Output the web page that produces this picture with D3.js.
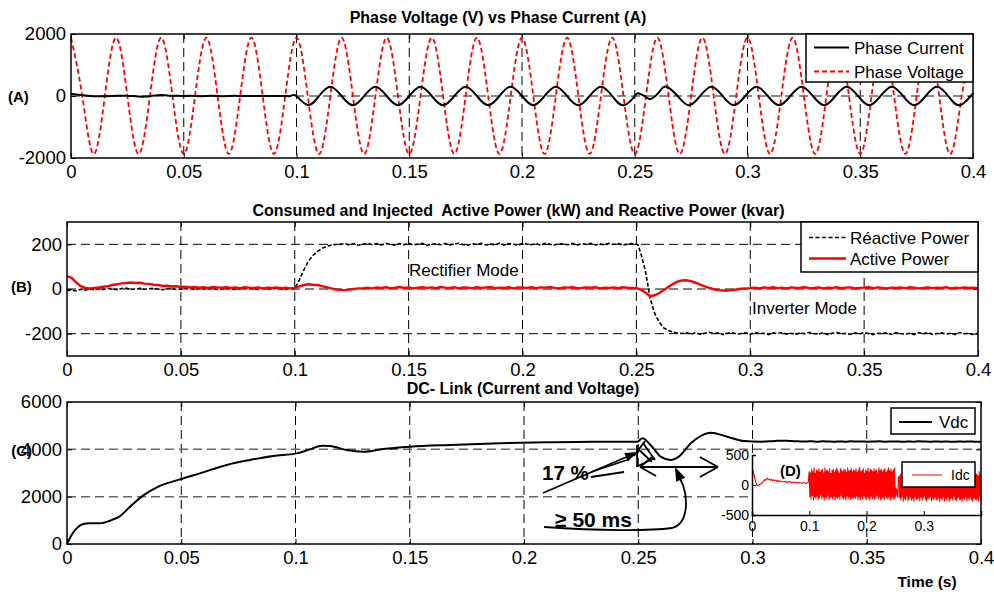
<!DOCTYPE html>
<html><head><meta charset="utf-8">
<script src="https://cdn.jsdelivr.net/npm/d3@7"></script>
<style>body{margin:0;background:#fff} svg{display:block}</style>
</head><body><svg id="c" width="994" height="592"></svg>
<script>
// ---------------- DATA ----------------
const xTicks = [0,0.05,0.1,0.15,0.2,0.25,0.3,0.35,0.4];
const xTickLabels = ["0","0.05","0.1","0.15","0.2","0.25","0.3","0.35","0.4"];
const yTicksA = [-2000,0,2000];
const yTicksB = [-200,0,200];
const yTicksC = [0,2000,4000,6000];
const yTicksD = [-500,0,500];
const xTicksD = [0,0.1,0.2,0.3];
const xTickLabelsD = ["0","0.1","0.2","0.3"];

// Panel A : phase voltage, values every 5 ms from 0 to 0.4 s
const phaseVoltage = [
 1880,0,-1870,0, 1880,0,-1870,0, 1880,0,-1870,0, 1880,0,-1870,0, 1880,0,-1870,0,
 1880,0,-1870,0, 1880,0,-1870,0, 1880,0,-1870,0, 1880,0,-1870,0, 1880,0,-1870,0,
 1880,0,-1870,0, 1880,0,-1870,0, 1880,0,-1870,0, 1880,0,-1870,0, 1880,0,-1870,0,
 1880,0,-1870,0, 1880,0,-1870,0, 1880,0,-1870,0, 1880,0,-1870,0, 1880,0,-1870,0,
 1880];
// Panel A : phase current
const currentStart = [65,50,25,5,-5,-10,-5,0,5,10,5,0,-15,-20,-5,20,30,20,10,5,0,5,0,-5,0,5,0,-5,0,5,0,3,0,-3,0,2,0,-2,0,2]; // 0 -> 0.0975
const currentRect = [0,-290,0,300,0,-300,0,300,0,-300,0,300,0,-300,0,300,0,-300,0,300,0,-300,0,300,0,-300,0,300,0,-300,0]; // 0.1 -> 0.25
const currentTrans = [[0.2515,90],[0.254,10],[0.2565,-100],[0.259,-10],[0.2615,190]];
const currentInv = [300,0,-300,0,300,0,-300,0,300,0,-300,0,300,0,-300,0,300,0,-300,0,300,0,-300,0,300,0,-300,0]; // 0.264 -> 0.399
const currentEnd = [[0.4,60]];

// Panel B : reactive power (kvar)
const qPre = [-8,-4,-9,-1,-5,1,-4,2,-2,3,-1,-3,2,4,-2,0,3,-2,1,4,-1,-3,2,3,-2,0,4,1,-2,3,0,1,4,-2,0,3,1,-2,3,0,4,1,-2,3,0,1,4,0,-2,3,0]; // 0 -> 0.1
const qRise = [[0.102,40],[0.104,85],[0.106,125],[0.108,150],[0.11,168],[0.112,182],[0.114,191],[0.116,196],[0.118,199]];
const qHigh = [200,204,197,203,196,201,205,198,203,197,204,200,196,203,198,205,197,201,204,196,200,203,198,204,197,201,205,198,196,203,200,204,197,201,198,205,196,203,200,197,204,201,198,203,196,205,200,197,203,201,198,204,196,203,200,205,197,201,198,204,200,203,197,201,204,200]; // 0.12 -> 0.25
const qFall = [[0.2507,198],[0.252,158],[0.254,80],[0.256,-40],[0.258,-108],[0.26,-148],[0.262,-174],[0.264,-186],[0.266,-193],[0.268,-197]];
const qLow = [-199,-195,-202,-196,-203,-198,-194,-200,-196,-204,-198,-195,-202,-199,-196,-203,-195,-200,-198,-204,-196,-199,-195,-202,-198,-203,-196,-200,-194,-199,-202,-196,-204,-198,-195,-200,-199,-203,-196,-202,-195,-199,-204,-198,-200,-196,-203,-195,-199,-202,-198,-204,-196,-200,-195,-203,-199,-196,-202,-198,-204,-195,-200,-199,-203,-198]; // 0.27 -> 0.4

// Panel B : active power (kW)
const pStart = [[0,58],[0.002,50],[0.004,30],[0.006,13],[0.008,5],[0.01,3],[0.012,5],[0.014,7],[0.016,10],[0.018,13],[0.02,18],[0.022,21],[0.024,25],[0.026,27],[0.028,29],[0.03,27],[0.032,28],[0.034,24],[0.036,23],[0.038,19],[0.04,18],[0.042,14],[0.044,15],[0.046,11],[0.048,12]];
const pMid = [9,10,7,9,6,8,5,9,7,6,8,5,7,4,8,6,5,7,3,6,5,7,4,6,3,5]; // 0.05 -> 0.1
const pBump = [[0.102,12],[0.104,18],[0.106,21],[0.108,19],[0.11,18],[0.112,13],[0.114,8],[0.116,3],[0.118,-2],[0.12,-4],[0.122,-5],[0.124,-3],[0.126,0],[0.128,3],[0.13,4]];
const pFlat1 = [6,3,7,5,8,4,6,9,5,7,3,6,8,5,7,4,9,6,5,8,3,7,6,4,8,5,7,9,4,6,5,8,3,7,6,5,8,4,7,6,9,5,3,7,6,8,4,5,7,6,8,3,6,5,7,4,8,6,5,4]; // 0.132 -> 0.25
const pDip = [[0.252,-3],[0.254,-16],[0.256,-32],[0.258,-28],[0.26,-18],[0.262,-5],[0.264,9],[0.266,22],[0.268,33],[0.27,38],[0.272,39],[0.274,35],[0.276,28],[0.278,20],[0.28,12],[0.282,5],[0.284,-1],[0.286,-5],[0.288,-7],[0.29,-7],[0.292,-5],[0.294,-2],[0.296,1],[0.298,3]];
const pFlat2 = [4,6,3,7,5,8,4,6,3,7,5,6,8,4,5,7,3,6,5,8,4,6,7,3,5,6,8,4,7,5,3,6,5,7,4,8,6,3,5,7,4,6,5,8,3,6,4,7,5,6,4]; // 0.3 -> 0.4

// Panel C : DC link voltage
const vdcPoints = [[0,0],[0.002,380],[0.0042,660],[0.0071,845],[0.01,875],[0.0144,875],[0.0188,985],[0.0232,1180],[0.0276,1575],[0.0334,2055],[0.0393,2395],[0.0495,2730],[0.0582,2985],[0.0699,3340],[0.0801,3550],[0.0903,3720],[0.1005,3830],[0.1063,4000],[0.1115,4155],[0.1151,4140],[0.1224,3970],[0.1297,3900],[0.1384,4015],[0.1501,4110],[0.1676,4185],[0.1895,4255],[0.21,4300],[0.2306,4325],[0.2496,4325],[0.2518,4465],[0.2554,4185],[0.2598,3690],[0.2642,3550],[0.2678,3690],[0.273,4255],[0.2817,4705],[0.289,4535],[0.2963,4350]];
const vdcPlateau = [4320,4335,4345,4360,4365,4355,4340,4335,4330,4345,4325,4340,4330,4320,4335,4325,4340,4330,4335,4320,4330,4340,4325,4330,4335,4320,4330,4325,4340,4330,4320,4335,4325,4330,4320,4330,4325,4335,4320,4325]; // 0.3036 -> 0.4

// Panel D : DC link current
const idcStart = [[0,200],[0.002,230],[0.004,150],[0.006,70],[0.008,10],[0.01,-15],[0.012,-5],[0.014,20],[0.016,15],[0.018,45],[0.02,60],[0.022,90],[0.024,80],[0.026,110],[0.028,95],[0.03,100],[0.032,80],[0.034,95],[0.036,70],[0.038,85],[0.04,75],[0.042,80],[0.044,60],[0.046,75],[0.048,55],[0.05,65],[0.054,50],[0.058,60],[0.062,45],[0.066,55],[0.07,40],[0.074,50],[0.078,35],[0.082,45],[0.086,30],[0.09,40],[0.094,25],[0.098,35]];
const idcHi1 = [230,210,270,230,290,200,260,240,280,220,250,270,210,290,240,260,230,280,200,250,270,220,260,290,240,210,280,250,230,270,260,220,290,240,250,280,230,260,
  240,270,220,260,300,230,250,280,210,260,240,290,220,270,250,230,280,240,260,210,290,250,270,230,260,280,220,250,290,240,270,230,260,290];
const idcLo1 = [-200,-240,-180,-260,-210,-230,-190,-250,-220,-170,-240,-200,-260,-210,-230,-180,-250,-220,-200,-240,-190,-260,-210,-230,-200,-250,-180,-220,-240,-210,-260,-190,-230,-200,-250,-220,-240,-210,
  -230,-190,-250,-210,-260,-200,-240,-180,-220,-250,-200,-230,-260,-190,-240,-210,-250,-220,-180,-240,-200,-260,-230,-210,-250,-190,-220,-240,-200,-260,-230,-210,-250,-220];
const idcTrans = [[0.2505,-130],[0.2512,-40],[0.2519,-160],[0.2526,-60],[0.2533,-190],[0.254,-80],[0.2548,-210],[0.2556,120]];
const idcHi2 = [150,190,130,210,170,230,140,200,180,220,160,130,210,190,150,230,170,200,140,220,180,160,210,130,190,230,150,200,170,220,140,190,210,160,230,180,
  200,150,220,170,190,230,140,210,180,160,220,190,150,230,170,200,130,210,180,220,160,190,230,150,200,170,210,140,220,180,190,160,230,170];
const idcLo2 = [-220,-260,-200,-280,-230,-250,-190,-270,-240,-210,-260,-230,-280,-200,-250,-240,-220,-270,-210,-260,-230,-190,-250,-280,-220,-240,-200,-270,-230,-250,-210,-260,-240,-220,-280,-230,
  -250,-210,-270,-230,-260,-200,-280,-240,-220,-260,-190,-250,-270,-230,-210,-260,-240,-280,-220,-250,-200,-270,-230,-260,-210,-250,-280,-220,-240,-260,-230,-270,-210,-250];

// ---------------- HELPERS ----------------
const FONT = '"Liberation Sans", Arial, Helvetica, sans-serif';
const spread = (vals, t0, t1) => vals.map((v, i) => [t0 + (t1 - t0) * i / (vals.length - 1), v]);
const interleave = (hi, lo) => hi.flatMap((h, i) => i < lo.length ? [h, lo[i]] : [h]);

const currentSeries = [].concat(spread(currentStart, 0, 0.0975), spread(currentRect, 0.1, 0.25), currentTrans, spread(currentInv, 0.264, 0.399), currentEnd);
const voltageSeries = spread(phaseVoltage, 0, 0.4);
const reactiveSeries = [].concat(spread(qPre, 0, 0.1), qRise, spread(qHigh, 0.12, 0.25), qFall, spread(qLow, 0.27, 0.4));
const activeSeries = [].concat(pStart, spread(pMid, 0.05, 0.1), pBump, spread(pFlat1, 0.132, 0.25), pDip, spread(pFlat2, 0.3, 0.4));
const vdcSeries = [].concat(vdcPoints, spread(vdcPlateau, 0.3036, 0.4));
const idcSeries = [].concat(idcStart, spread(interleave(idcHi1, idcLo1), 0.1, 0.25), idcTrans, spread(interleave(idcHi2, idcLo2), 0.257, 0.4));

// ---------------- DRAWING ----------------
const svg = d3.select("#c");
svg.append("rect").attr("width", 994).attr("height", 592).attr("fill", "#fff");

const boxA = {l:71, r:973, t:34, b:158};
const boxB = {l:67, r:978, t:222, b:356};
const boxC = {l:67, r:981, t:402, b:544};
const boxD = {l:752, r:981, t:455, b:515};
const TICK_FS = 18.5;

function panel(box, yDom, hGrid, hColor, hWidth) {
  const x = d3.scaleLinear().domain([0, 0.4]).range([box.l, box.r]);
  const y = d3.scaleLinear().domain(yDom).range([box.b, box.t]);
  const g = svg.append("g");
  g.selectAll(null).data(xTicks.filter(t => t > 0 && t < 0.4)).join("line")
    .attr("x1", d => x(d)).attr("x2", d => x(d)).attr("y1", box.t).attr("y2", box.b)
    .attr("stroke", "#000").attr("stroke-width", 1).attr("stroke-dasharray", "9,5");
  g.selectAll(null).data(hGrid).join("line")
    .attr("x1", box.l).attr("x2", box.r).attr("y1", d => y(d)).attr("y2", d => y(d))
    .attr("stroke", hColor).attr("stroke-width", hWidth).attr("stroke-dasharray", "9,5");
  return {x, y, g};
}

function axes(P, box, yTicks) {
  const ax = P.g.append("g").attr("transform", `translate(0,${box.b})`)
    .call(d3.axisBottom(P.x).tickValues(xTicks).tickFormat((d, i) => xTickLabels[i]).tickSize(-5).tickPadding(7));
  const ay = P.g.append("g").attr("transform", `translate(${box.l},0)`)
    .call(d3.axisLeft(P.y).tickValues(yTicks).tickFormat(d => String(d)).tickSize(-5).tickPadding(5));
  const at = P.g.append("g").attr("transform", `translate(0,${box.t})`)
    .call(d3.axisTop(P.x).tickValues(xTicks).tickFormat("").tickSize(-5));
  const ar = P.g.append("g").attr("transform", `translate(${box.r},0)`)
    .call(d3.axisRight(P.y).tickValues(yTicks).tickFormat("").tickSize(-5));
  [ax, ay, at, ar].forEach(a => {
    a.select(".domain").remove();
    a.selectAll("line").attr("stroke", "#000");
    a.selectAll("text").attr("font-size", TICK_FS).attr("font-family", FONT).attr("fill", "#000");
  });
}

function frame(box) {
  svg.append("rect").attr("x", box.l).attr("y", box.t).attr("width", box.r - box.l).attr("height", box.b - box.t)
    .attr("fill", "none").attr("stroke", "#000").attr("stroke-width", 1.5);
}

function text(x, y, str, opts = {}) {
  return svg.append("text").attr("x", x).attr("y", y).text(str)
    .attr("font-family", FONT).attr("font-size", opts.size || 17)
    .attr("font-weight", opts.bold ? "bold" : "normal")
    .attr("text-anchor", opts.anchor || "start").attr("fill", "#000");
}

function legend(b, items, fs) {
  svg.append("rect").attr("x", b.x).attr("y", b.y).attr("width", b.w).attr("height", b.h)
    .attr("fill", "#fff").attr("stroke", "#000").attr("stroke-width", 1.5);
  items.forEach(it => {
    svg.append("line").attr("x1", it.x1).attr("x2", it.x2).attr("y1", it.ly).attr("y2", it.ly)
      .attr("stroke", it.color).attr("stroke-width", it.w).attr("stroke-dasharray", it.dash || null);
    text(it.tx, it.ty, it.label, {size: fs});
  });
}

function arrowHead(p0, p1, len, half) {
  const dx = p1[0] - p0[0], dy = p1[1] - p0[1], L = Math.hypot(dx, dy);
  const ux = dx / L, uy = dy / L;
  const bx = p1[0] - ux * len, by = p1[1] - uy * len;
  svg.append("path").attr("d", `M${p1[0]},${p1[1]}L${bx - uy * half},${by + ux * half}L${bx + uy * half},${by - ux * half}Z`)
    .attr("fill", "#000");
}

// ---- Panel A ----
const PA = panel(boxA, [-2000, 2000], [0], "#666", 1.5);
axes(PA, boxA, yTicksA);
const lineA = d3.line().x(d => PA.x(d[0])).y(d => PA.y(d[1])).curve(d3.curveNatural);
svg.append("path").attr("d", lineA(voltageSeries)).attr("fill", "none").attr("stroke", "#f00")
  .attr("stroke-width", 1.8).attr("stroke-dasharray", "5,3");
svg.append("path").attr("d", lineA(currentSeries)).attr("fill", "none").attr("stroke", "#000").attr("stroke-width", 2);
frame(boxA);
text(498, 23, "Phase Voltage (V) vs Phase Current (A)", {size: 16, bold: true, anchor: "middle"});
text(8, 102, "(A)", {size: 15, bold: true});
legend({x: 806, y: 34, w: 167, h: 48}, [
  {label: "Phase Current", color: "#000", w: 2, x1: 814, x2: 849, ly: 47.5, tx: 854, ty: 53.5},
  {label: "Phase Voltage", color: "#f00", w: 2, dash: "5,3", x1: 814, x2: 849, ly: 71.5, tx: 854, ty: 77.5}
], 17);

// ---- Panel B ----
const PB = panel(boxB, [-300, 300], yTicksB, "#000", 1);
axes(PB, boxB, yTicksB);
const lineB = d3.line().x(d => PB.x(d[0])).y(d => PB.y(d[1]));
svg.append("path").attr("d", lineB(reactiveSeries)).attr("fill", "none").attr("stroke", "#000")
  .attr("stroke-width", 1.6).attr("stroke-dasharray", "4,2");
svg.append("path").attr("d", lineB(activeSeries)).attr("fill", "none").attr("stroke", "#f00").attr("stroke-width", 2.4);
frame(boxB);
text(518.5, 216, "Consumed and Injected  Active Power (kW) and Reactive Power (kvar)", {size: 16, bold: true, anchor: "middle"}).style("white-space", "pre");
text(11, 292, "(B)", {size: 15, bold: true});
text(PB.x(0.1502), PB.y(58), "Rectifier Mode", {size: 17});
text(PB.x(0.3008), PB.y(-112), "Inverter Mode", {size: 17});
legend({x: 801, y: 222, w: 177, h: 50}, [
  {label: "Réactive Power", color: "#000", w: 1.5, dash: "4,2.5", x1: 809, x2: 846, ly: 237.5, tx: 850, ty: 243.5},
  {label: "Active Power", color: "#f00", w: 2.4, x1: 809, x2: 846, ly: 258.5, tx: 850, ty: 264.5}
], 17);

// ---- Panel C ----
const PC = panel(boxC, [0, 6000], [2000, 4000], "#666", 1.5);
axes(PC, boxC, yTicksC);
const lineC = d3.line().x(d => PC.x(d[0])).y(d => PC.y(d[1])).curve(d3.curveMonotoneX);
svg.append("path").attr("d", lineC(vdcSeries)).attr("fill", "none").attr("stroke", "#000").attr("stroke-width", 2);

// annotations (data units of panel C)
const C = (t, v) => [PC.x(t), PC.y(v)];
const annLines = [
  [[0.2083, 2155], [0.2499, 3887]],
  [[0.2293, 3042], [0.2464, 3592]],
  [[0.2293, 2831], [0.2438, 3042]],
  [[0.2495, 4183], [0.2495, 3254]],
  [[0.2481, 3718], [0.2530, 4352]],
  [[0.2521, 4268], [0.2573, 3549]],
  [[0.2495, 4056], [0.2560, 3465]],
  [[0.2499, 3296], [0.2573, 3634]],
  [[0.2508, 3254], [0.2849, 3254]],
  [[0.2508, 3254], [0.2578, 2873]],
  [[0.2508, 3254], [0.2560, 3676]],
  [[0.2849, 3254], [0.2770, 3676]],
  [[0.2849, 3254], [0.2770, 2831]]
];
annLines.forEach(([a, b]) => {
  const p = C(...a), q = C(...b);
  svg.append("line").attr("x1", p[0]).attr("y1", p[1]).attr("x2", q[0]).attr("y2", q[1])
    .attr("stroke", "#000").attr("stroke-width", 1.8);
});
arrowHead(C(0.2083, 2155), C(0.2499, 3887), 13, 4.5);
const cp = [[0.2088, 718], [0.2333, 549], [0.2551, 549], [0.2648, 676], [0.2718, 845], [0.2718, 1859], [0.2696, 2493], [0.2665, 3127]].map(d => C(...d));
svg.append("path").attr("d", `M${cp[0]}C${cp[1]} ${cp[2]} ${cp[3]}C${cp[4]} ${cp[5]} ${cp[6]}L${cp[7]}`)
  .attr("fill", "none").attr("stroke", "#000").attr("stroke-width", 1.8);
arrowHead(C(0.2696, 2493), C(0.2661, 3254), 14, 5);
text(PC.x(0.2079), PC.y(2704), "17 %", {size: 20.5, bold: true});
text(PC.x(0.2136), PC.y(718), "\u2265 50 ms", {size: 21, bold: true});

// ---- Inset D ----
const xD = d3.scaleLinear().domain([0, 0.4]).range([boxD.l, boxD.r]);
const yD = d3.scaleLinear().domain([-500, 500]).range([boxD.b, boxD.t]);
svg.append("rect").attr("x", boxD.l).attr("y", boxD.t).attr("width", boxD.r - boxD.l).attr("height", boxD.b - boxD.t).attr("fill", "#fff");
const lineD = d3.line().x(d => xD(d[0])).y(d => yD(d[1]));
svg.append("path").attr("d", lineD(idcSeries)).attr("fill", "none").attr("stroke", "#f00").attr("stroke-width", 1.1);
const dAx = svg.append("g").attr("transform", `translate(0,${boxD.b})`)
  .call(d3.axisBottom(xD).tickValues(xTicksD).tickFormat((d, i) => xTickLabelsD[i]).tickSize(-4).tickPadding(6));
const dAy = svg.append("g").attr("transform", `translate(${boxD.l},0)`)
  .call(d3.axisLeft(yD).tickValues(yTicksD).tickFormat(d => String(d)).tickSize(-4).tickPadding(3));
[dAx, dAy].forEach(a => {
  a.select(".domain").attr("stroke", "#000").attr("stroke-width", 1.5);
  a.selectAll("line").attr("stroke", "#000");
  a.selectAll("text").attr("font-size", 14).attr("font-family", FONT).attr("fill", "#000");
});
text(780, 476, "(D)", {size: 15, bold: true});
legend({x: 902, y: 462, w: 73, h: 25}, [
  {label: "Idc", color: "#f00", w: 1, x1: 912, x2: 942, ly: 475, tx: 951, ty: 479.5}
], 14);

frame(boxC);
text(32, 456, "(C)", {size: 15, bold: true, anchor: "end"});
text(927, 587, "Time (s)", {size: 15.5, bold: true, anchor: "middle"});
text(523, 394, "DC- Link (Current and Voltage)", {size: 16, bold: true, anchor: "middle"});
legend({x: 891, y: 408, w: 84, h: 26}, [
  {label: "Vdc", color: "#000", w: 2, x1: 899, x2: 932, ly: 422, tx: 939, ty: 428}
], 17);
</script></body></html>
